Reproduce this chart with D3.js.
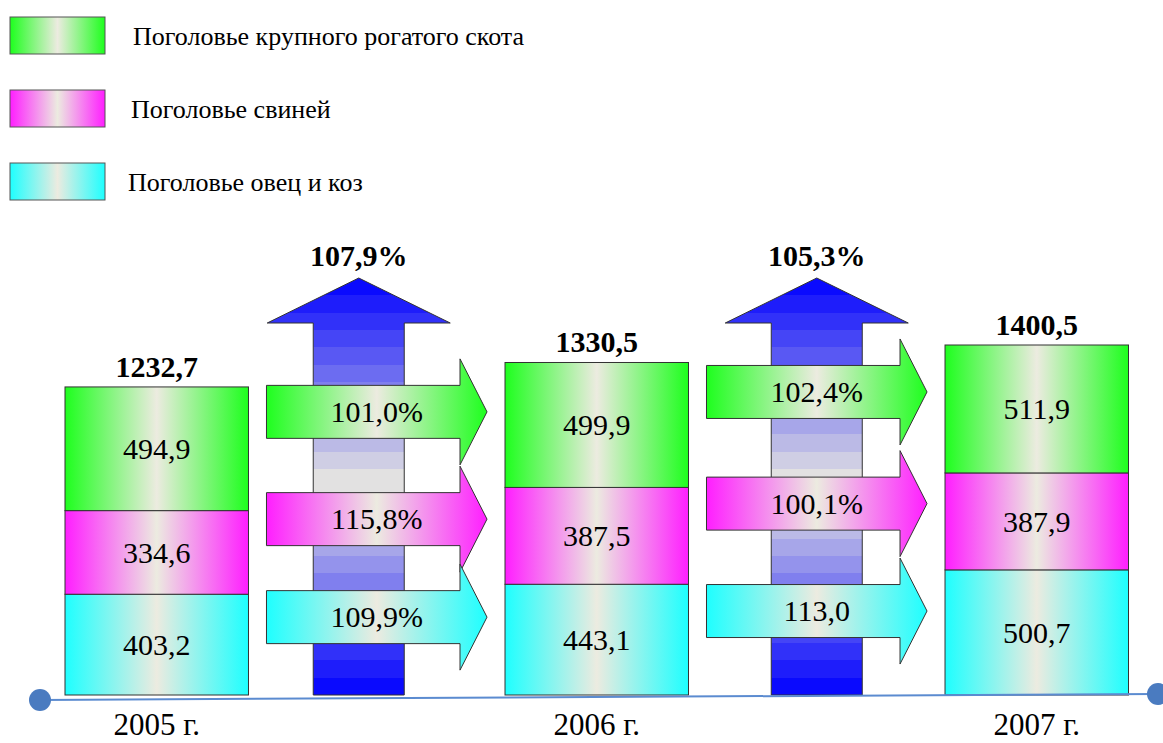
<!DOCTYPE html>
<html>
<head>
<meta charset="utf-8">
<script src="https://cdn.jsdelivr.net/npm/d3@7"></script>
</head>
<body style="margin:0;background:#fff">
<svg class="chart" width="1163" height="743"></svg>
<script>
// data
const years = ['2005 г.', '2006 г.', '2007 г.'];
const seriesNames = ['Поголовье крупного рогатого скота', 'Поголовье свиней', 'Поголовье овец и коз'];
const cattle = [494.9, 499.9, 511.9];
const pigs = [334.6, 387.5, 387.9];
const sheep = [403.2, 443.1, 500.7];
const totals = [1232.7, 1330.5, 1400.5];
const totalGrowth = ['107,9%', '105,3%'];
const cattleGrowth = ['101,0%', '102,4%'];
const pigsGrowth = ['115,8%', '100,1%'];
const sheepGrowth = ['109,9%', '113,0'];

const svgObj = d3.select('.chart');
const defs = svgObj.append('defs');
const serif = 'Liberation Serif';

const fmt = d3.formatLocale({decimal: ',', thousands: '', grouping: [3], currency: ['', '']}).format('.1f');

const keys = ['sheep', 'pigs', 'cattle'];          // bottom -> top
const legendKeys = ['cattle', 'pigs', 'sheep'];
const edgeColor = {cattle: '#1eff1e', pigs: '#ff1eff', sheep: '#1effff'};
const growth = {cattle: cattleGrowth, pigs: pigsGrowth, sheep: sheepGrowth};
const midColor = '#ecebe0';

// horizontal gradients (edge -> cream -> edge)
keys.forEach(k => {
	const g = defs.append('linearGradient').attr('id', 'grad-' + k)
		.attr('x1', 0).attr('x2', 1).attr('y1', 0).attr('y2', 0);
	g.append('stop').attr('offset', 0).attr('stop-color', edgeColor[k]);
	g.append('stop').attr('offset', 0.5).attr('stop-color', midColor);
	g.append('stop').attr('offset', 1).attr('stop-color', edgeColor[k]);
});

// banded vertical gradient for the big up arrows
const blueGrad = defs.append('linearGradient').attr('id', 'grad-blue')
	.attr('x1', 0).attr('x2', 0).attr('y1', 0).attr('y2', 1);
const nBands = 24;
const blueInterp = d3.interpolateRgb(midColor, '#0000ff');
for (let i = 0; i < nBands; i++) {
	const t = (i + 0.5) / nBands;
	const c = blueInterp(Math.abs(2 * t - 1));
	blueGrad.append('stop').attr('offset', i / nBands).attr('stop-color', c);
	blueGrad.append('stop').attr('offset', (i + 1) / nBands).attr('stop-color', c);
}

const table = years.map((yr, i) => ({year: yr, sheep: sheep[i], pigs: pigs[i], cattle: cattle[i], total: totals[i]}));
const stacked = d3.stack().keys(keys)(table);

const x = d3.scaleBand().domain(years).range([65, 1128.5]).paddingInner(0.583).paddingOuter(0);
const y = d3.scaleLinear().domain([0, d3.max(totals)]).range([695, 345]);
const bw = x.bandwidth();

//legend
const legend = svgObj.selectAll('.legendItem')
	.data(legendKeys)
	.enter().append('g')
	.attr('class', 'legendItem')
	.attr('transform', (d, i) => `translate(10,${17 + i * 73})`);
legend.append('rect')
	.attr('width', 95).attr('height', 37)
	.attr('fill', d => `url(#grad-${d})`)
	.attr('stroke', '#555').attr('stroke-width', 1);
legend.append('text')
	.attr('x', (d, i) => [123, 121, 118][i]).attr('y', 28)
	.attr('font-size', 26)
	.text((d, i) => seriesNames[i]);

// gaps between bars -> arrows
const gaps = d3.range(years.length - 1).map(i => {
	const left = x(years[i]) + bw + 18;
	const right = x(years[i + 1]) - 18;
	return {i, left, right, mid: (left + right) / 2};
});
const upShift = [-18, 0];

// big up arrows
const apexY = 278, headBaseY = 323, shaftHalf = 45.5, headHalf = 91.5;
function upArrowPath(cx) {
	const b = y(0);
	return `M${cx - shaftHalf},${b} L${cx - shaftHalf},${headBaseY} L${cx - headHalf},${headBaseY} ` +
		`L${cx},${apexY} L${cx + headHalf},${headBaseY} L${cx + shaftHalf},${headBaseY} L${cx + shaftHalf},${b} Z`;
}
svgObj.selectAll('.upArrow')
	.data(gaps)
	.enter().append('path')
	.attr('class', 'upArrow')
	.attr('d', d => upArrowPath(d.mid + upShift[d.i]))
	.attr('fill', 'url(#grad-blue)')
	.attr('stroke', '#333').attr('stroke-width', 1);
svgObj.selectAll('.upLabel')
	.data(gaps)
	.enter().append('text')
	.attr('class', 'upLabel')
	.attr('x', d => d.mid + upShift[d.i])
	.attr('y', apexY - 12)
	.attr('text-anchor', 'middle')
	.attr('font-size', 30).attr('font-weight', 'bold')
	.text(d => totalGrowth[d.i]);

// horizontal arrows
const segCenter = (k, i) => {
	const s = stacked.find(l => l.key === k)[i];
	return y((s[0] + s[1]) / 2);
};
const bodyHalf = 26.5, headH = 53, headLen = 27;
function rightArrowPath(x0, x1, yc) {
	const xh = x1 - headLen;
	return `M${x0},${yc - bodyHalf} L${xh},${yc - bodyHalf} L${xh},${yc - headH} L${x1},${yc} ` +
		`L${xh},${yc + headH} L${xh},${yc + bodyHalf} L${x0},${yc + bodyHalf} Z`;
}
const hArrows = [];
gaps.forEach(g => legendKeys.forEach(k => {
	hArrows.push({k, g, yc: (segCenter(k, g.i) + segCenter(k, g.i + 1)) / 2 - 25, label: growth[k][g.i]});
}));
const hGroup = svgObj.selectAll('.hArrow')
	.data(hArrows)
	.enter().append('g')
	.attr('class', 'hArrow');
hGroup.append('path')
	.attr('d', d => rightArrowPath(d.g.left, d.g.right, d.yc))
	.attr('fill', d => `url(#grad-${d.k})`)
	.attr('stroke', '#333').attr('stroke-width', 1);
hGroup.append('text')
	.attr('x', d => d.g.mid)
	.attr('y', d => d.yc)
	.attr('dy', '0.34em')
	.attr('text-anchor', 'middle')
	.attr('font-size', 30)
	.text(d => d.label);

// stacked bars
const layers = svgObj.selectAll('.layer')
	.data(stacked)
	.enter().append('g')
	.attr('class', 'layer');
layers.selectAll('rect')
	.data(d => d.map(s => ({k: d.key, s})))
	.enter().append('rect')
	.attr('x', d => x(d.s.data.year))
	.attr('y', d => y(d.s[1]))
	.attr('width', bw)
	.attr('height', d => y(d.s[0]) - y(d.s[1]))
	.attr('fill', d => `url(#grad-${d.k})`)
	.attr('stroke', '#333').attr('stroke-width', 1);
layers.selectAll('text')
	.data(d => d.map(s => ({k: d.key, s})))
	.enter().append('text')
	.attr('x', d => x(d.s.data.year) + bw / 2)
	.attr('y', d => y((d.s[0] + d.s[1]) / 2))
	.attr('dy', '0.34em')
	.attr('text-anchor', 'middle')
	.attr('font-size', 30)
	.text(d => fmt(d.s[1] - d.s[0]));

// totals
svgObj.selectAll('.totalLabel')
	.data(table)
	.enter().append('text')
	.attr('class', 'totalLabel')
	.attr('x', d => x(d.year) + bw / 2)
	.attr('y', d => y(d.total) - 10)
	.attr('text-anchor', 'middle')
	.attr('font-size', 30).attr('font-weight', 'bold')
	.text(d => fmt(d.total));

// time line
svgObj.append('line')
	.attr('x1', 40).attr('y1', 700).attr('x2', 1158).attr('y2', 694)
	.attr('stroke', '#5b8bd0').attr('stroke-width', 2);
svgObj.selectAll('.dot')
	.data([[40, 700], [1158, 694]])
	.enter().append('circle')
	.attr('class', 'dot')
	.attr('cx', d => d[0]).attr('cy', d => d[1]).attr('r', 11)
	.attr('fill', '#4a7bc0');

svgObj.selectAll('.yearLabel')
	.data(years)
	.enter().append('text')
	.attr('class', 'yearLabel')
	.attr('x', d => x(d) + bw / 2)
	.attr('y', 735)
	.attr('text-anchor', 'middle')
	.attr('font-size', 31)
	.text(d => d);

// serif everywhere
svgObj.selectAll('text')
	.attr('font-family', serif)
	.style('font-family', "'Liberation Serif', 'Times New Roman', serif");
</script>
</body>
</html>
